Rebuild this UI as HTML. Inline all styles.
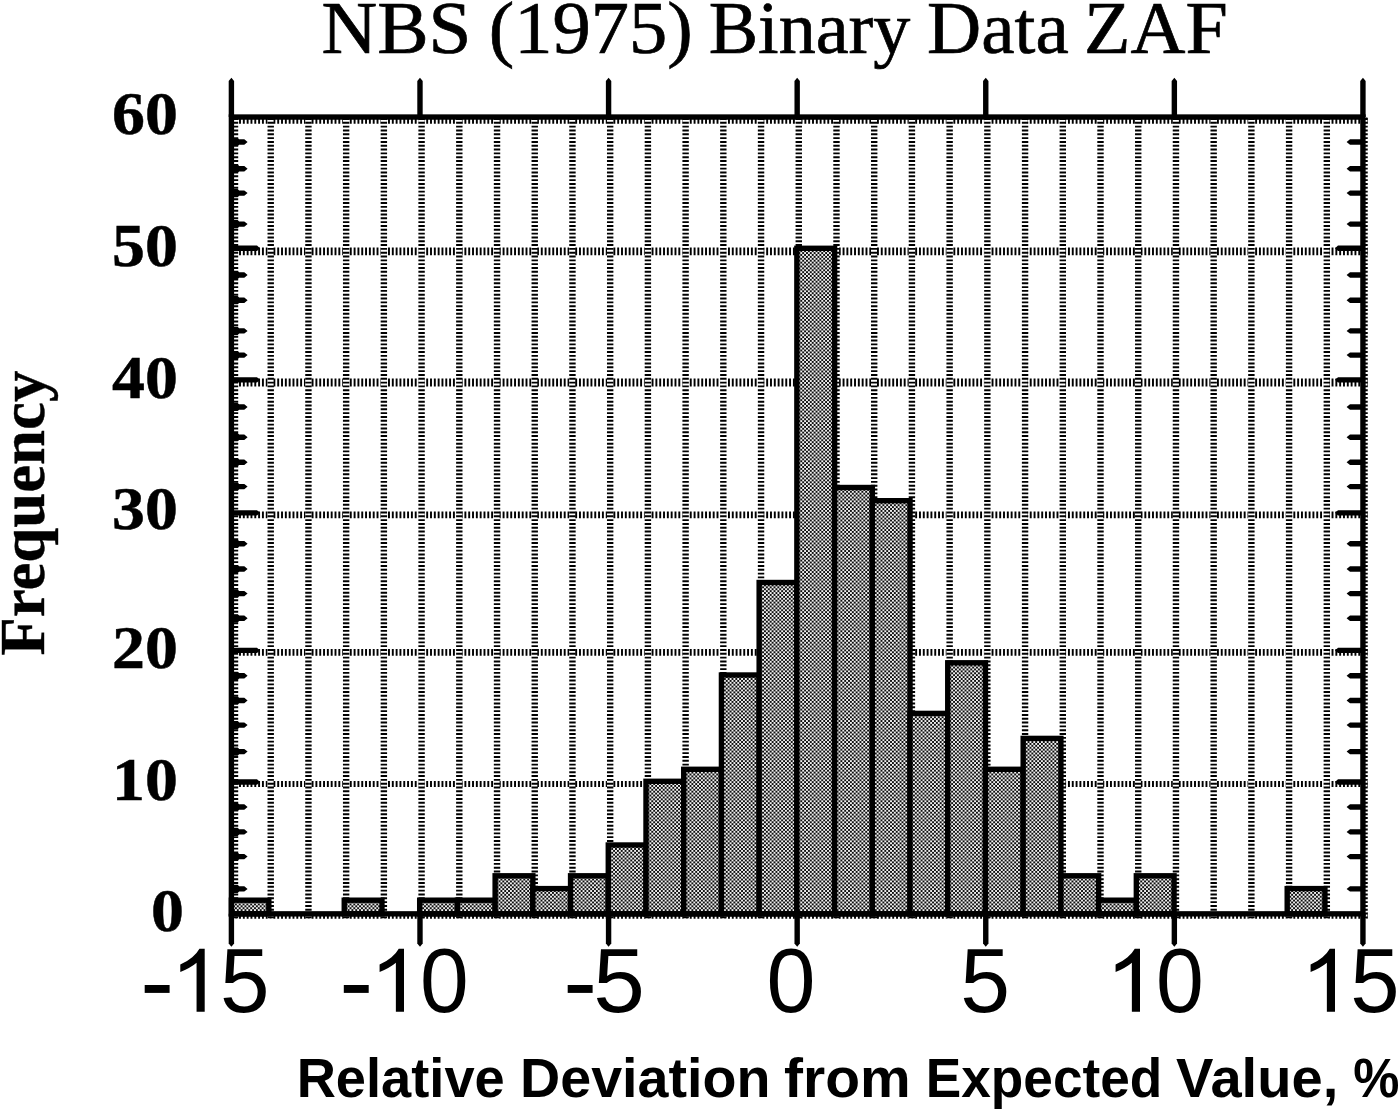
<!DOCTYPE html>
<html><head><meta charset="utf-8"><title>NBS (1975) Binary Data ZAF</title>
<style>html,body{margin:0;padding:0;background:#fff;overflow:hidden}svg{display:block}text{font-family:"Liberation Sans",sans-serif;fill:#000}.s{font-family:"Liberation Serif",serif}.sb{font-family:"Liberation Serif",serif;font-weight:bold}.b{font-weight:bold}</style></head><body>
<svg width="1400" height="1111" viewBox="0 0 1400 1111">
<defs>
<pattern id="chk" x="0" y="0" width="3.820" height="3.820" patternUnits="userSpaceOnUse"><rect width="3.820" height="3.820" fill="#f0f0f0"/><rect x="0" y="0" width="1.910" height="1.910" fill="#0f0f0f"/><rect x="1.910" y="1.910" width="1.910" height="1.910" fill="#0f0f0f"/></pattern>
</defs>
<rect width="1400" height="1111" fill="#fff"/>
<g stroke="#000" stroke-dasharray="1.910 1.910" fill="none">
<line x1="231.40" y1="915.60" x2="1367.54" y2="915.60" stroke-width="6.2"/>
<line x1="231.40" y1="784.00" x2="1367.54" y2="784.00" stroke-width="5.9"/>
<line x1="231.40" y1="652.40" x2="1367.54" y2="652.40" stroke-width="6.6"/>
<line x1="231.40" y1="514.85" x2="1367.54" y2="514.85" stroke-width="6.6"/>
<line x1="231.40" y1="382.60" x2="1367.54" y2="382.60" stroke-width="8.0"/>
<line x1="231.40" y1="251.45" x2="1367.54" y2="251.45" stroke-width="7.7"/>
<line x1="231.40" y1="120.60" x2="1367.54" y2="120.60" stroke-width="6.4"/>
</g>
<g stroke="#fff" stroke-width="5.80">
<line x1="234.70" y1="118.05" x2="234.70" y2="918.45"/>
<line x1="270.42" y1="118.05" x2="270.42" y2="918.45"/>
<line x1="308.14" y1="118.05" x2="308.14" y2="918.45"/>
<line x1="345.85" y1="118.05" x2="345.85" y2="918.45"/>
<line x1="383.57" y1="118.05" x2="383.57" y2="918.45"/>
<line x1="421.29" y1="118.05" x2="421.29" y2="918.45"/>
<line x1="459.01" y1="118.05" x2="459.01" y2="918.45"/>
<line x1="496.73" y1="118.05" x2="496.73" y2="918.45"/>
<line x1="534.44" y1="118.05" x2="534.44" y2="918.45"/>
<line x1="572.16" y1="118.05" x2="572.16" y2="918.45"/>
<line x1="609.88" y1="118.05" x2="609.88" y2="918.45"/>
<line x1="647.60" y1="118.05" x2="647.60" y2="918.45"/>
<line x1="685.32" y1="118.05" x2="685.32" y2="918.45"/>
<line x1="723.03" y1="118.05" x2="723.03" y2="918.45"/>
<line x1="760.75" y1="118.05" x2="760.75" y2="918.45"/>
<line x1="798.47" y1="118.05" x2="798.47" y2="918.45"/>
<line x1="836.19" y1="118.05" x2="836.19" y2="918.45"/>
<line x1="873.91" y1="118.05" x2="873.91" y2="918.45"/>
<line x1="911.62" y1="118.05" x2="911.62" y2="918.45"/>
<line x1="949.34" y1="118.05" x2="949.34" y2="918.45"/>
<line x1="987.06" y1="118.05" x2="987.06" y2="918.45"/>
<line x1="1024.78" y1="118.05" x2="1024.78" y2="918.45"/>
<line x1="1062.50" y1="118.05" x2="1062.50" y2="918.45"/>
<line x1="1100.21" y1="118.05" x2="1100.21" y2="918.45"/>
<line x1="1137.93" y1="118.05" x2="1137.93" y2="918.45"/>
<line x1="1175.65" y1="118.05" x2="1175.65" y2="918.45"/>
<line x1="1213.37" y1="118.05" x2="1213.37" y2="918.45"/>
<line x1="1251.09" y1="118.05" x2="1251.09" y2="918.45"/>
<line x1="1288.80" y1="118.05" x2="1288.80" y2="918.45"/>
<line x1="1326.52" y1="118.05" x2="1326.52" y2="918.45"/>
<line x1="1364.24" y1="118.05" x2="1364.24" y2="918.45"/>
</g>
<g stroke="#000" stroke-width="6.4" stroke-dasharray="1.910 1.910">
<line x1="235.00" y1="118.05" x2="235.00" y2="918.45"/>
<line x1="270.72" y1="118.05" x2="270.72" y2="918.45"/>
<line x1="308.44" y1="118.05" x2="308.44" y2="918.45"/>
<line x1="346.15" y1="118.05" x2="346.15" y2="918.45"/>
<line x1="383.87" y1="118.05" x2="383.87" y2="918.45"/>
<line x1="421.59" y1="118.05" x2="421.59" y2="918.45"/>
<line x1="459.31" y1="118.05" x2="459.31" y2="918.45"/>
<line x1="497.03" y1="118.05" x2="497.03" y2="918.45"/>
<line x1="534.74" y1="118.05" x2="534.74" y2="918.45"/>
<line x1="572.46" y1="118.05" x2="572.46" y2="918.45"/>
<line x1="610.18" y1="118.05" x2="610.18" y2="918.45"/>
<line x1="647.90" y1="118.05" x2="647.90" y2="918.45"/>
<line x1="685.62" y1="118.05" x2="685.62" y2="918.45"/>
<line x1="723.33" y1="118.05" x2="723.33" y2="918.45"/>
<line x1="761.05" y1="118.05" x2="761.05" y2="918.45"/>
<line x1="798.77" y1="118.05" x2="798.77" y2="918.45"/>
<line x1="836.49" y1="118.05" x2="836.49" y2="918.45"/>
<line x1="874.21" y1="118.05" x2="874.21" y2="918.45"/>
<line x1="911.92" y1="118.05" x2="911.92" y2="918.45"/>
<line x1="949.64" y1="118.05" x2="949.64" y2="918.45"/>
<line x1="987.36" y1="118.05" x2="987.36" y2="918.45"/>
<line x1="1025.08" y1="118.05" x2="1025.08" y2="918.45"/>
<line x1="1062.80" y1="118.05" x2="1062.80" y2="918.45"/>
<line x1="1100.51" y1="118.05" x2="1100.51" y2="918.45"/>
<line x1="1138.23" y1="118.05" x2="1138.23" y2="918.45"/>
<line x1="1175.95" y1="118.05" x2="1175.95" y2="918.45"/>
<line x1="1213.67" y1="118.05" x2="1213.67" y2="918.45"/>
<line x1="1251.39" y1="118.05" x2="1251.39" y2="918.45"/>
<line x1="1289.10" y1="118.05" x2="1289.10" y2="918.45"/>
<line x1="1326.82" y1="118.05" x2="1326.82" y2="918.45"/>
<line x1="1364.54" y1="118.05" x2="1364.54" y2="918.45"/>
</g>
<g fill="url(#chk)" stroke="#000" stroke-width="5.4" stroke-linejoin="miter">
<rect x="231.40" y="900.20" width="37.42" height="13.65"/>
<rect x="344.25" y="900.20" width="37.72" height="13.65"/>
<rect x="419.69" y="900.20" width="37.72" height="13.65"/>
<rect x="457.41" y="900.20" width="37.72" height="13.65"/>
<rect x="495.13" y="875.80" width="37.72" height="38.05"/>
<rect x="532.84" y="888.60" width="37.72" height="25.25"/>
<rect x="570.56" y="875.80" width="37.72" height="38.05"/>
<rect x="608.28" y="845.00" width="37.72" height="68.85"/>
<rect x="646.00" y="781.30" width="37.72" height="132.55"/>
<rect x="683.72" y="769.30" width="37.72" height="144.55"/>
<rect x="721.43" y="675.00" width="37.72" height="238.85"/>
<rect x="759.15" y="582.50" width="37.72" height="331.35"/>
<rect x="796.87" y="248.30" width="37.72" height="665.55"/>
<rect x="834.59" y="487.50" width="37.72" height="426.35"/>
<rect x="872.31" y="500.70" width="37.72" height="413.15"/>
<rect x="910.02" y="713.40" width="37.72" height="200.45"/>
<rect x="947.74" y="662.80" width="37.72" height="251.05"/>
<rect x="985.46" y="769.30" width="37.72" height="144.55"/>
<rect x="1023.18" y="738.40" width="37.72" height="175.45"/>
<rect x="1060.90" y="875.80" width="37.72" height="38.05"/>
<rect x="1098.61" y="900.20" width="37.72" height="13.65"/>
<rect x="1136.33" y="875.80" width="37.72" height="38.05"/>
<rect x="1287.20" y="888.60" width="37.72" height="25.25"/>
</g>
<rect x="231.40" y="117.05" width="1131.54" height="796.80" fill="none" stroke="#000" stroke-width="5.4"/>
<g fill="#000">
<path d="M228.70 117.05V81L231.40 77.8L234.10 81V117.05Z"/>
<path d="M228.70 913.85V943.6L231.40 946.8L234.10 943.6V913.85Z"/>
<path d="M417.29 117.05V81L419.99 77.8L422.69 81V117.05Z"/>
<path d="M417.29 913.85V943.6L419.99 946.8L422.69 943.6V913.85Z"/>
<path d="M605.88 117.05V81L608.58 77.8L611.28 81V117.05Z"/>
<path d="M605.88 913.85V943.6L608.58 946.8L611.28 943.6V913.85Z"/>
<path d="M794.47 117.05V81L797.17 77.8L799.87 81V117.05Z"/>
<path d="M794.47 913.85V943.6L797.17 946.8L799.87 943.6V913.85Z"/>
<path d="M983.06 117.05V81L985.76 77.8L988.46 81V117.05Z"/>
<path d="M983.06 913.85V943.6L985.76 946.8L988.46 943.6V913.85Z"/>
<path d="M1171.65 117.05V81L1174.35 77.8L1177.05 81V117.05Z"/>
<path d="M1171.65 913.85V943.6L1174.35 946.8L1177.05 943.6V913.85Z"/>
<path d="M1360.24 117.05V81L1362.94 77.8L1365.64 81V117.05Z"/>
<path d="M1360.24 913.85V943.6L1362.94 946.8L1365.64 943.6V913.85Z"/>
<path d="M231.40 884.80H237.70L239.10 886.20H244.3L247.6 888.90L244.3 891.60H239.10L237.70 893.00H231.40Z"/>
<path d="M1362.94 886.20H1350L1346.6 888.90L1350 891.60H1362.94Z"/>
<path d="M231.40 852.50H237.70L239.10 853.90H244.3L247.6 856.60L244.3 859.30H239.10L237.70 860.70H231.40Z"/>
<path d="M1362.94 853.90H1350L1346.6 856.60L1350 859.30H1362.94Z"/>
<path d="M231.40 827.80H237.70L239.10 829.20H244.3L247.6 831.90L244.3 834.60H239.10L237.70 836.00H231.40Z"/>
<path d="M1362.94 829.20H1350L1346.6 831.90L1350 834.60H1362.94Z"/>
<path d="M231.40 802.90H237.70L239.10 804.30H244.3L247.6 807.00L244.3 809.70H239.10L237.70 811.10H231.40Z"/>
<path d="M1362.94 804.30H1350L1346.6 807.00L1350 809.70H1362.94Z"/>
<path d="M231.40 779.30H257L260 782.00L257 784.70H231.40Z"/>
<path d="M1362.94 779.30H1338L1335 782.00L1338 784.70H1362.94Z"/>
<path d="M231.40 747.50H237.70L239.10 748.90H244.3L247.6 751.60L244.3 754.30H239.10L237.70 755.70H231.40Z"/>
<path d="M1362.94 748.90H1350L1346.6 751.60L1350 754.30H1362.94Z"/>
<path d="M231.40 721.00H237.70L239.10 722.40H244.3L247.6 725.10L244.3 727.80H239.10L237.70 729.20H231.40Z"/>
<path d="M1362.94 722.40H1350L1346.6 725.10L1350 727.80H1362.94Z"/>
<path d="M231.40 696.40H237.70L239.10 697.80H244.3L247.6 700.50L244.3 703.20H239.10L237.70 704.60H231.40Z"/>
<path d="M1362.94 697.80H1350L1346.6 700.50L1350 703.20H1362.94Z"/>
<path d="M231.40 671.70H237.70L239.10 673.10H244.3L247.6 675.80L244.3 678.50H239.10L237.70 679.90H231.40Z"/>
<path d="M1362.94 673.10H1350L1346.6 675.80L1350 678.50H1362.94Z"/>
<path d="M231.40 647.70H257L260 650.40L257 653.10H231.40Z"/>
<path d="M1362.94 647.70H1338L1335 650.40L1338 653.10H1362.94Z"/>
<path d="M231.40 614.20H237.70L239.10 615.60H244.3L247.6 618.30L244.3 621.00H239.10L237.70 622.40H231.40Z"/>
<path d="M1362.94 615.60H1350L1346.6 618.30L1350 621.00H1362.94Z"/>
<path d="M231.40 589.50H237.70L239.10 590.90H244.3L247.6 593.60L244.3 596.30H239.10L237.70 597.70H231.40Z"/>
<path d="M1362.94 590.90H1350L1346.6 593.60L1350 596.30H1362.94Z"/>
<path d="M231.40 564.90H237.70L239.10 566.30H244.3L247.6 569.00L244.3 571.70H239.10L237.70 573.10H231.40Z"/>
<path d="M1362.94 566.30H1350L1346.6 569.00L1350 571.70H1362.94Z"/>
<path d="M231.40 539.70H237.70L239.10 541.10H244.3L247.6 543.80L244.3 546.50H239.10L237.70 547.90H231.40Z"/>
<path d="M1362.94 541.10H1350L1346.6 543.80L1350 546.50H1362.94Z"/>
<path d="M231.40 510.15H257L260 512.85L257 515.55H231.40Z"/>
<path d="M1362.94 510.15H1338L1335 512.85L1338 515.55H1362.94Z"/>
<path d="M231.40 482.50H237.70L239.10 483.90H244.3L247.6 486.60L244.3 489.30H239.10L237.70 490.70H231.40Z"/>
<path d="M1362.94 483.90H1350L1346.6 486.60L1350 489.30H1362.94Z"/>
<path d="M231.40 458.10H237.70L239.10 459.50H244.3L247.6 462.20L244.3 464.90H239.10L237.70 466.30H231.40Z"/>
<path d="M1362.94 459.50H1350L1346.6 462.20L1350 464.90H1362.94Z"/>
<path d="M231.40 433.10H237.70L239.10 434.50H244.3L247.6 437.20L244.3 439.90H239.10L237.70 441.30H231.40Z"/>
<path d="M1362.94 434.50H1350L1346.6 437.20L1350 439.90H1362.94Z"/>
<path d="M231.40 402.90H237.70L239.10 404.30H244.3L247.6 407.00L244.3 409.70H239.10L237.70 411.10H231.40Z"/>
<path d="M1362.94 404.30H1350L1346.6 407.00L1350 409.70H1362.94Z"/>
<path d="M231.40 377.15H257L260 379.85L257 382.55H231.40Z"/>
<path d="M1362.94 377.15H1338L1335 379.85L1338 382.55H1362.94Z"/>
<path d="M231.40 351.00H237.70L239.10 352.40H244.3L247.6 355.10L244.3 357.80H239.10L237.70 359.20H231.40Z"/>
<path d="M1362.94 352.40H1350L1346.6 355.10L1350 357.80H1362.94Z"/>
<path d="M231.40 326.80H237.70L239.10 328.20H244.3L247.6 330.90L244.3 333.60H239.10L237.70 335.00H231.40Z"/>
<path d="M1362.94 328.20H1350L1346.6 330.90L1350 333.60H1362.94Z"/>
<path d="M231.40 296.10H237.70L239.10 297.50H244.3L247.6 300.20L244.3 302.90H239.10L237.70 304.30H231.40Z"/>
<path d="M1362.94 297.50H1350L1346.6 300.20L1350 302.90H1362.94Z"/>
<path d="M231.40 270.90H237.70L239.10 272.30H244.3L247.6 275.00L244.3 277.70H239.10L237.70 279.10H231.40Z"/>
<path d="M1362.94 272.30H1350L1346.6 275.00L1350 277.70H1362.94Z"/>
<path d="M231.40 245.60H257L260 248.30L257 251.00H231.40Z"/>
<path d="M1362.94 245.60H1338L1335 248.30L1338 251.00H1362.94Z"/>
<path d="M231.40 220.00H237.70L239.10 221.40H244.3L247.6 224.10L244.3 226.80H239.10L237.70 228.20H231.40Z"/>
<path d="M1362.94 221.40H1350L1346.6 224.10L1350 226.80H1362.94Z"/>
<path d="M231.40 189.00H237.70L239.10 190.40H244.3L247.6 193.10L244.3 195.80H239.10L237.70 197.20H231.40Z"/>
<path d="M1362.94 190.40H1350L1346.6 193.10L1350 195.80H1362.94Z"/>
<path d="M231.40 164.60H237.70L239.10 166.00H244.3L247.6 168.70L244.3 171.40H239.10L237.70 172.80H231.40Z"/>
<path d="M1362.94 166.00H1350L1346.6 168.70L1350 171.40H1362.94Z"/>
<path d="M231.40 137.90H237.70L239.10 139.30H244.3L247.6 142.00L244.3 144.70H239.10L237.70 146.10H231.40Z"/>
<path d="M1362.94 139.30H1350L1346.6 142.00L1350 144.70H1362.94Z"/>
</g>
<text class="s" font-size="75" stroke="#000" stroke-width="0.7" transform="translate(321.55 52.9) scale(1.0273 1)">NBS</text>
<text class="s" font-size="75" stroke="#000" stroke-width="0.7" transform="translate(488.64 52.9) scale(1.0206 1)">(1975)</text>
<text class="s" font-size="75" stroke="#000" stroke-width="0.7" transform="translate(708.72 52.9) scale(0.9876 1)">Binary</text>
<text class="s" font-size="75" stroke="#000" stroke-width="0.7" transform="translate(927.1 52.9) scale(1.0007 1)">Data</text>
<text class="s" font-size="75" stroke="#000" stroke-width="0.7" transform="translate(1084.04 52.9) scale(1.0141 1)">ZAF</text>
<g font-size="62" stroke="#000" stroke-width="0.5">
<text class="sb" transform="translate(111.98 134.4) scale(1.062 0.985)">60</text>
<text class="sb" transform="translate(111.98 265.8) scale(1.062 0.985)">50</text>
<text class="sb" transform="translate(111.98 397.9) scale(1.062 0.985)">40</text>
<text class="sb" transform="translate(111.98 529.2) scale(1.062 0.985)">30</text>
<text class="sb" transform="translate(111.98 668.1) scale(1.062 0.985)">20</text>
<text class="sb" transform="translate(111.98 800.3) scale(1.062 0.985)">10</text>
<text class="sb" transform="translate(151.10 930.6) scale(1.062 0.985)">0</text>
</g>
<text class="sb" font-size="62" stroke="#000" stroke-width="0.4" transform="translate(44.4 655.6) rotate(-90) scale(1.013 1.03)">Frequency</text>
<path transform="translate(204.7 1011.8) scale(0.0452 -0.0428) translate(-763 0)" d="M763 0H583V1147Q518 1085 412.5 1023T223 930V1104Q374 1175 487 1276T647 1472H763Z"/>
<path transform="translate(404.0 1011.8) scale(0.0452 -0.0428) translate(-763 0)" d="M763 0H583V1147Q518 1085 412.5 1023T223 930V1104Q374 1175 487 1276T647 1472H763Z"/>
<path transform="translate(1140.0 1011.8) scale(0.0452 -0.0428) translate(-763 0)" d="M763 0H583V1147Q518 1085 412.5 1023T223 930V1104Q374 1175 487 1276T647 1472H763Z"/>
<path transform="translate(1335.0 1011.8) scale(0.0452 -0.0428) translate(-763 0)" d="M763 0H583V1147Q518 1085 412.5 1023T223 930V1104Q374 1175 487 1276T647 1472H763Z"/>
<text font-size="87.5" transform="translate(219.95 1011.5) scale(1.0182 1.03)">5</text>
<text font-size="87.5" transform="translate(420.02 1011.5) scale(1.0010 1.03)">0</text>
<text font-size="87.5" transform="translate(593.18 1011.5) scale(1.0599 1.03)">5</text>
<text font-size="87.5" transform="translate(766.40 1011.5) scale(1.0057 1.03)">0</text>
<text font-size="87.5" transform="translate(960.23 1011.5) scale(1.0231 1.03)">5</text>
<text font-size="87.5" transform="translate(1156.07 1011.5) scale(0.9818 1.03)">0</text>
<text font-size="87.5" transform="translate(1350.37 1011.5) scale(1.0132 1.03)">5</text>
<rect x="144.7" y="985" width="24.9" height="7.9" fill="#000"/>
<rect x="343.8" y="985" width="24.9" height="7.9" fill="#000"/>
<rect x="567.7" y="985" width="24.9" height="7.9" fill="#000"/>
<g font-size="55">
<text class="b" transform="translate(296.65 1097.1) scale(0.9868 1)">Relative</text>
<text class="b" transform="translate(520.05 1097.1) scale(1.0117 1)">Deviation</text>
<text class="b" transform="translate(784.06 1097.1) scale(1.0364 1)">from</text>
<text class="b" transform="translate(925.73 1097.1) scale(0.9675 1)">Expected</text>
<text class="b" transform="translate(1176.08 1097.1) scale(1.0201 1)">Value,</text>
<text class="b" transform="translate(1353.36 1097.1) scale(0.9435 1)">%</text>
</g>
</svg></body></html>
